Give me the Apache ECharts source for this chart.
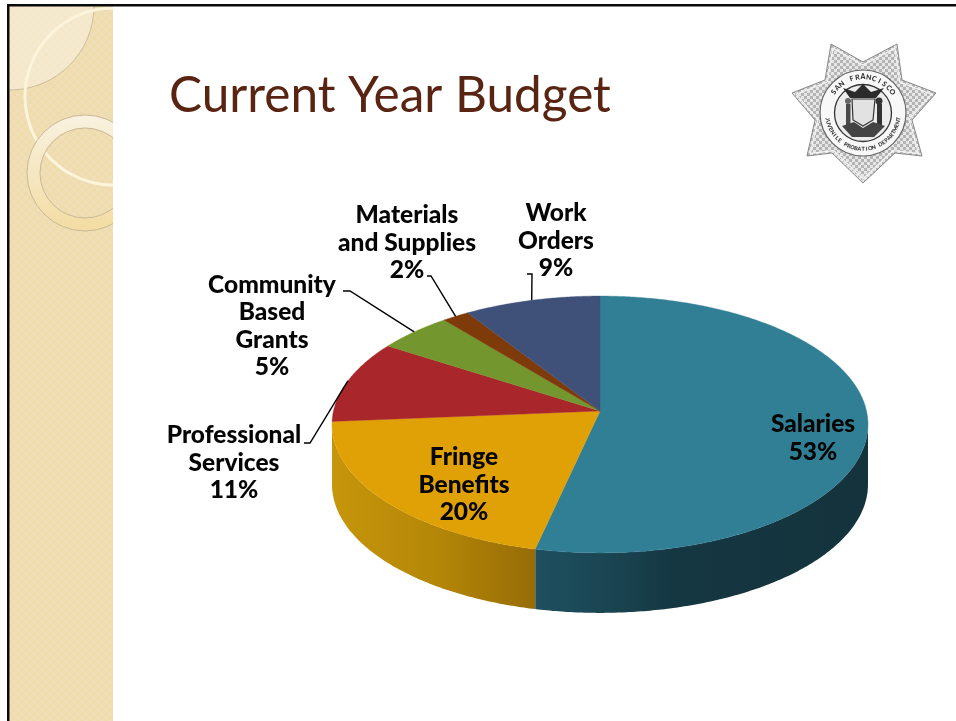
<!DOCTYPE html>
<html>
<head>
<meta charset="utf-8">
<style>html,body{margin:0;padding:0;background:#fff}#c{width:956px;height:721px}</style>
<script src="https://cdn.jsdelivr.net/npm/echarts@6/dist/echarts.min.js"></script>
</head>
<body>
<div id="c"></div>
<script>
var categories = ['Salaries', 'Fringe\nBenefits', 'Professional\nServices', 'Community\nBased\nGrants', 'Materials\nand Supplies', 'Work\nOrders'];
var sliceValues = [53.5, 20.2, 10.4, 5.0, 1.8, 9.1];
var percentLabels = ['53%', '20%', '11%', '5%', '2%', '9%'];
var titleText = 'Current Year Budget';

var topColors = ['#317f94', '#e0a106', '#a9272a', '#73972e', '#7f3a0a', '#3f5079'];
var FONT = 'Lato, "Open Sans", sans-serif';

// projection of the tilted disc
var CX = 600, CY = 411, A = 266.5, B = 127, K = 0.105, DEPTH = 60;
function project(theta, dy) {
  var u = Math.sin(theta), v = -Math.cos(theta), d = 1 - K * v;
  return [CX + A * u / d, CY + B * v / d + (dy || 0)];
}
function arc(t0, t1, dy) {
  var n = Math.max(2, Math.ceil(Math.abs(t1 - t0) / 0.01)), pts = [];
  for (var i = 0; i <= n; i++) pts.push(project(t0 + (t1 - t0) * i / n, dy));
  return pts;
}
var total = sliceValues.reduce(function (a, b) { return a + b; }, 0);
function thetaAt(cum) { return cum / total * 2 * Math.PI; }
var TAN_R = Math.acos(-K), TAN_L = 2 * Math.PI - TAN_R;

var wallGradients = {
  0: new echarts.graphic.LinearGradient(535, 0, 868, 0, [
    { offset: 0, color: '#1e5060' }, { offset: 0.2, color: '#1b4654' }, { offset: 0.42, color: '#153742' }, { offset: 1, color: '#14333c' }
  ], true),
  1: new echarts.graphic.LinearGradient(333, 0, 535, 0, [
    { offset: 0, color: '#c6950a' }, { offset: 0.5, color: '#b58708' }, { offset: 1, color: '#976c06' }
  ], true)
};
// label anchors
var labelLayout = [
  { x: 813, y: 438 },
  { x: 464, y: 485 },
  { x: 234, y: 463, from: [304, 443], knee: [310, 443] },
  { x: 272, y: 326, from: [343, 291], knee: [350, 291] },
  { x: 407, y: 243, from: [427, 276], knee: [431, 276] },
  { x: 556, y: 241, from: [527, 274], knee: [532, 274] }
];

function renderSlice(params, api) {
  var i = params.dataIndex;
  var val = api.value(1);
  var cum = 0;
  for (var j = 0; j < i; j++) cum += sliceValues[j];
  var t0 = thetaAt(cum), t1 = thetaAt(cum + val), mid = (t0 + t1) / 2;
  var children = [];
  // side wall
  var w0 = Math.max(t0, TAN_R), w1 = Math.min(t1, TAN_L);
  if (w1 > w0) {
    var wallPts = arc(w0, w1, 0).concat(arc(w1, w0, DEPTH));
    children.push({ type: 'polygon', shape: { points: wallPts }, style: { fill: wallGradients[i] || topColors[i], stroke: null } });
  }
  // top face
  var topPts = [[CX, CY]].concat(arc(t0, t1, 0));
  children.push({ type: 'polygon', shape: { points: topPts }, style: { fill: api.visual('color'), stroke: api.visual('color'), lineWidth: 0.4 } });
  // leader
  var lay = labelLayout[i];
  if (lay.from) {
    children.push({ type: 'polyline', shape: { points: [lay.from, lay.knee, project(mid, 0)] }, style: { stroke: '#000', lineWidth: 1.4, fill: null }, z2: 5 });
  }
  // label
  children.push({
    type: 'text', z2: 10,
    style: {
      x: lay.x, y: lay.y, text: categories[i] + '\n' + percentLabels[i],
      font: '900 24.5px ' + FONT, fill: '#050505', align: 'center', verticalAlign: 'middle', lineHeight: 27.5
    }
  });
  return { type: 'group', children: children };
}

// ---------- slide furniture ----------
function checker(base, light, size) {
  var c = document.createElement('canvas'); c.width = c.height = size * 2;
  var g = c.getContext('2d');
  g.fillStyle = base; g.fillRect(0, 0, size * 2, size * 2);
  g.fillStyle = light; g.fillRect(0, 0, size, size); g.fillRect(size, size, size, size);
  return c;
}
function badgeElements() {
  var cx = 863, cy = 113, els = [];
  var star = [[831, 44], [863, 62], [897, 44], [902, 80], [936, 93], [912, 120], [922, 156], [895, 153], [863, 183], [832, 153], [807, 156], [815, 120], [792, 93], [825, 80]];
  els.push({ type: 'polygon', shape: { points: star }, style: { fill: { image: checker('#e6e6e6', '#b4b4b4', 3), repeat: 'repeat' }, stroke: '#888', lineWidth: 1 } });
  var inner = star.map(function (p) { return [cx + (p[0] - cx) * 0.94, cy + (p[1] - cy) * 0.94]; });
  els.push({ type: 'polygon', shape: { points: inner }, style: { fill: null, stroke: '#f4f4f4', lineWidth: 1.2 } });
  els.push({ type: 'circle', shape: { cx: cx, cy: cy, r: 43 }, style: { fill: '#f8f8f8', stroke: '#666', lineWidth: 1.2 } });
  els.push({ type: 'circle', shape: { cx: cx, cy: cy, r: 28.5 }, style: { fill: '#ececec', stroke: '#333', lineWidth: 1.3 } });
  function ringText(text, a0, a1, flip, size) {
    for (var i = 0; i < text.length; i++) {
      var a = a0 + (a1 - a0) * i / (text.length - 1);
      els.push({
        type: 'text', x: cx + 36 * Math.sin(a), y: cy - 36 * Math.cos(a), rotation: flip ? -a + Math.PI : -a,
        style: { text: text[i], font: '900 ' + size + 'px ' + FONT, fill: '#333', align: 'center', verticalAlign: 'middle' }
      });
    }
  }
  ringText('SAN FRANCISCO', -0.95, 0.95, false, 7);
  ringText('JUVENILE PROBATION DEPARTMENT', 4.55, 1.73, true, 5.5);
  // seal: eagle, shield, two figures, ground
  els.push({ type: 'polygon', shape: { points: [[843, 88], [855, 92], [863, 84], [871, 92], [884, 88], [876, 98], [850, 98]] }, style: { fill: '#2b2b2b' } });
  els.push({ type: 'polygon', shape: { points: [[852, 99], [875, 99], [873, 120], [863, 126], [853, 120]] }, style: { fill: '#e2e2e2', stroke: '#333', lineWidth: 1.2 } });
  els.push({ type: 'rect', shape: { x: 846, y: 104, width: 4.5, height: 24 }, style: { fill: '#4a4a4a' } });
  els.push({ type: 'rect', shape: { x: 877, y: 104, width: 5, height: 24 }, style: { fill: '#333' } });
  els.push({ type: 'circle', shape: { cx: 848, cy: 101, r: 3 }, style: { fill: '#666' } });
  els.push({ type: 'circle', shape: { cx: 879, cy: 101, r: 3.5 }, style: { fill: '#333' } });
  els.push({ type: 'polygon', shape: { points: [[842, 126], [854, 122], [863, 128], [873, 122], [885, 126], [874, 137], [852, 137]] }, style: { fill: '#444' } });
  return els;
}

var bgElements = [
  { type: 'rect', shape: { x: 9, y: 6, width: 105, height: 715 }, style: { fill: { image: checker('#f0dfb6', '#eedbae', 4), repeat: 'repeat' } } },
  { type: 'circle', shape: { cx: 10, cy: 6, r: 84 }, style: { fill: 'rgba(255,255,255,0.35)', stroke: '#cdbf9c', lineWidth: 1 } },
  { type: 'circle', shape: { cx: 113.5, cy: 96.5, r: 88.5 }, style: { fill: null, stroke: '#fdf4dc', lineWidth: 3 } },
  {
    type: 'ring', shape: { cx: 85, cy: 173, r: 58, r0: 45 },
    style: { fill: { type: 'linear', x: 0, y: 0, x2: 0, y2: 1, colorStops: [{ offset: 0, color: '#f9f2e0' }, { offset: 1, color: '#f3dca2' }] }, stroke: '#c9b995', lineWidth: 1 }
  },
  { type: 'rect', shape: { x: 113, y: 0, width: 843, height: 721 }, style: { fill: '#fff' } },
  { type: 'rect', shape: { x: 0, y: 0, width: 7, height: 721 }, style: { fill: '#fff' } },
  { type: 'rect', shape: { x: 0, y: 0, width: 956, height: 4 }, style: { fill: '#fff' } },
  { type: 'rect', shape: { x: 7, y: 4, width: 949, height: 2.5 }, style: { fill: '#0a0a0a' } },
  { type: 'rect', shape: { x: 7, y: 4, width: 2.5, height: 717 }, style: { fill: '#0a0a0a' } }
].concat(badgeElements());

var chart = echarts.init(document.getElementById('c'), null, { renderer: 'canvas' });
chart.setOption({
  animation: false,
  backgroundColor: '#fff',
  graphic: { elements: bgElements },
  title: {
    text: titleText, left: 169, top: 71, padding: 0, z: 20,
    textStyle: { fontFamily: FONT, fontWeight: 400, fontSize: 49.5, color: '#5a2412' }
  },
  tooltip: { show: false },
  series: [{
    type: 'custom',
    coordinateSystem: 'none',
    z: 10,
    renderItem: renderSlice,
    encode: { itemName: 0, value: 1 },
    data: categories.map(function (c, i) {
      return { name: c.replace(/\n/g, ' '), value: [i, sliceValues[i]], itemStyle: { color: topColors[i] } };
    })
  }]
});
</script>
</body>
</html>
